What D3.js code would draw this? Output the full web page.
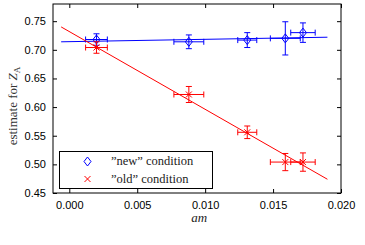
<!DOCTYPE html>
<meta charset="utf-8">
<title>Z_A estimate</title>
<style>
    body { margin: 0; background: #fff; }
    .tick text { font-family: "Liberation Sans", Arial, sans-serif; font-size: 11px; fill: #000; }
</style>
<body>
<script src="https://d3js.org/d3.v7.min.js"></script>
<script>
    var width = 365;
    var height = 245;
    var margin = {top: 4, right: 24, bottom: 52, left: 53};
    var serif = "'Liberation Serif', 'Times New Roman', serif";

    // "new" condition (blue diamonds)
    var newAm   = [0.0020, 0.0088, 0.0131, 0.0159, 0.0172];
    var newZ    = [0.718, 0.714, 0.717, 0.720, 0.730];
    var newXErr = [0.0008, 0.0011, 0.0007, 0.0011, 0.0009];
    var newYErr = [0.010, 0.012, 0.013, 0.029, 0.017];

    // "old" condition (red crosses)
    var oldAm   = [0.0020, 0.0088, 0.0131, 0.0159, 0.0172];
    var oldZ    = [0.704, 0.622, 0.556, 0.504, 0.504];
    var oldXErr = [0.0008, 0.0011, 0.0007, 0.0011, 0.0009];
    var oldYErr = [0.010, 0.014, 0.011, 0.015, 0.016];

    // fit lines: [am, Z] end points
    var newFit = [[-0.0006, 0.714], [0.0190, 0.722]];
    var oldFit = [[-0.0006, 0.740], [0.0190, 0.474]];

    var xTicks = [0, 0.005, 0.010, 0.015, 0.020];
    var yTicks = [0.45, 0.50, 0.55, 0.60, 0.65, 0.70, 0.75];

    var svg = d3.select("body").append("svg")
        .attr("width", width)
        .attr("height", height);

    var x = d3.scaleLinear().domain([-0.0012, 0.020])
        .range([margin.left, width - margin.right]);
    var y = d3.scaleLinear().domain([0.45, 0.78])
        .range([height - margin.bottom, margin.top]);

    var x0 = margin.left, x1 = width - margin.right;
    var y0 = height - margin.bottom, y1 = margin.top;

    // axes with inward ticks on all four sides
    svg.append("g").attr("transform", "translate(0," + y0 + ")")
        .call(d3.axisBottom(x).tickValues(xTicks).tickFormat(d3.format(".3f")).tickSizeInner(-4).tickSizeOuter(0).tickPadding(8));
    svg.append("g").attr("transform", "translate(0," + y1 + ")")
        .call(d3.axisTop(x).tickValues(xTicks).tickFormat("").tickSizeInner(-4).tickSizeOuter(0));
    svg.append("g").attr("transform", "translate(" + x0 + ",0)")
        .call(d3.axisLeft(y).tickValues(yTicks).tickFormat(d3.format(".2f")).tickSizeInner(-4).tickSizeOuter(0).tickPadding(7));
    svg.append("g").attr("transform", "translate(" + x1 + ",0)")
        .call(d3.axisRight(y).tickValues(yTicks).tickFormat("").tickSizeInner(-4).tickSizeOuter(0));
    svg.selectAll(".domain").remove();

    svg.append("rect")
        .attr("x", x0).attr("y", y1)
        .attr("width", x1 - x0).attr("height", y0 - y1)
        .attr("fill", "none").attr("stroke", "#000").attr("stroke-width", 1);

    svg.append("clipPath").attr("id", "clip")
        .append("rect").attr("x", x0).attr("y", y1).attr("width", x1 - x0).attr("height", y0 - y1);

    var plot = svg.append("g").attr("clip-path", "url(#clip)");

    function series(am, z, xe, ye, fit, color, marker) {
        var pts = am.map(function(d, i) { return {x: d, y: z[i], xe: xe[i], ye: ye[i]}; });
        var g = plot.append("g").attr("stroke", color).attr("fill", "none").attr("stroke-width", 1);

        g.append("line")
            .attr("x1", x(fit[0][0])).attr("y1", y(fit[0][1]))
            .attr("x2", x(fit[1][0])).attr("y2", y(fit[1][1]));

        var e = g.selectAll(".err").data(pts).enter().append("g");
        var cap = 3;
        // horizontal bars
        e.append("line")
            .attr("x1", d => x(d.x - d.xe)).attr("x2", d => x(d.x + d.xe))
            .attr("y1", d => y(d.y)).attr("y2", d => y(d.y));
        e.append("line")
            .attr("x1", d => x(d.x - d.xe)).attr("x2", d => x(d.x - d.xe))
            .attr("y1", d => y(d.y) - cap).attr("y2", d => y(d.y) + cap);
        e.append("line")
            .attr("x1", d => x(d.x + d.xe)).attr("x2", d => x(d.x + d.xe))
            .attr("y1", d => y(d.y) - cap).attr("y2", d => y(d.y) + cap);
        // vertical bars
        e.append("line")
            .attr("x1", d => x(d.x)).attr("x2", d => x(d.x))
            .attr("y1", d => y(d.y - d.ye)).attr("y2", d => y(d.y + d.ye));
        e.append("line")
            .attr("x1", d => x(d.x) - cap).attr("x2", d => x(d.x) + cap)
            .attr("y1", d => y(d.y - d.ye)).attr("y2", d => y(d.y - d.ye));
        e.append("line")
            .attr("x1", d => x(d.x) - cap).attr("x2", d => x(d.x) + cap)
            .attr("y1", d => y(d.y + d.ye)).attr("y2", d => y(d.y + d.ye));

        e.append("path")
            .attr("transform", d => "translate(" + x(d.x) + "," + y(d.y) + ")")
            .attr("d", marker);
    }

    var diamond = "M0,-4.5L3.5,0L0,4.5L-3.5,0Z";
    var cross = "M-3,-3L3,3M-3,3L3,-3";

    series(newAm, newZ, newXErr, newYErr, newFit, "#0000ff", diamond);
    series(oldAm, oldZ, oldXErr, oldYErr, oldFit, "#ff0000", cross);

    // legend
    var lg = svg.append("g");
    lg.append("rect")
        .attr("x", 59.5).attr("y", 151.5).attr("width", 153).attr("height", 37)
        .attr("fill", "#fff").attr("stroke", "#000");
    lg.append("path").attr("transform", "translate(87.5,161.5)")
        .attr("d", diamond).attr("fill", "none").attr("stroke", "#0000ff");
    lg.append("path").attr("transform", "translate(87.5,179)")
        .attr("d", cross).attr("fill", "none").attr("stroke", "#ff0000");
    lg.append("text").attr("x", 111).attr("y", 165)
        .style("font-family", serif).style("font-size", "12.5px").style("fill", "#222").text("\u201dnew\u201d condition");
    lg.append("text").attr("x", 111).attr("y", 182.5)
        .style("font-family", serif).style("font-size", "12.5px").style("fill", "#222").text("\u201dold\u201d condition");

    // axis labels
    svg.append("text")
        .attr("x", x(0.010) - 6).attr("y", 222)
        .attr("text-anchor", "middle")
        .style("font-family", serif).style("font-size", "13px").style("font-style", "italic").style("fill", "#222")
        .text("am");

    var yl = svg.append("text")
        .attr("transform", "translate(17,106) rotate(-90)")
        .attr("text-anchor", "middle")
        .style("font-family", serif).style("font-size", "13px").style("fill", "#333");
    yl.append("tspan").text("estimate for ");
    yl.append("tspan").style("font-style", "italic").text("Z");
    yl.append("tspan").attr("dy", 3).style("font-size", "9px").text("A");
</script>
</body>
